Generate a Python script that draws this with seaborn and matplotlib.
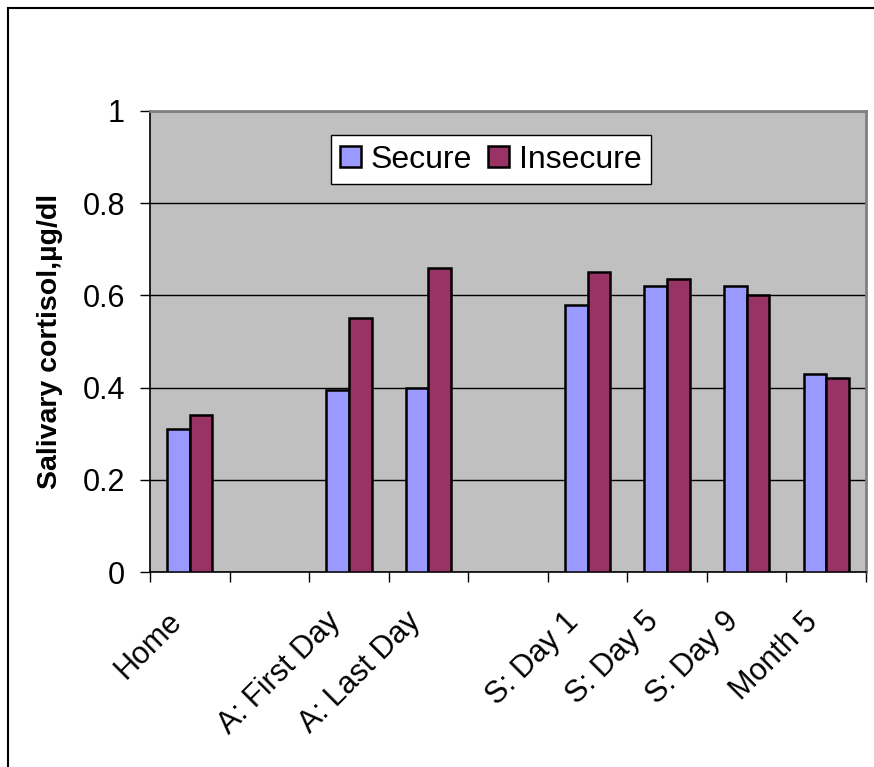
import pandas as pd
import matplotlib.pyplot as plt
import matplotlib.transforms as mtransforms
import seaborn as sns
import numpy as np
from matplotlib.patches import Rectangle

# data (blank categories are the empty slots in the original chart)
categories = ["Home", "", "A: First Day", "A: Last Day", " ",
              "S: Day 1", "S: Day 5", "S: Day 9", "Month 5"]
secure = [0.31, np.nan, 0.395, 0.40, np.nan, 0.58, 0.62, 0.62, 0.43]
insecure = [0.34, np.nan, 0.55, 0.66, np.nan, 0.65, 0.635, 0.60, 0.42]
groups = ["Secure", "Insecure"]
colors = ["#9999FF", "#993366"]

df = pd.DataFrame({"cat": categories, "Secure": secure, "Insecure": insecure})
df = df.melt(id_vars="cat", var_name="group", value_name="cortisol").dropna()

sns.set_theme(style="white")
plt.rcParams['font.family'] = ['Liberation Sans', 'DejaVu Sans']
plt.rcParams['text.color'] = 'black'
plt.rcParams['axes.labelcolor'] = 'black'
plt.rcParams['xtick.color'] = 'black'
plt.rcParams['ytick.color'] = 'black'

fig = plt.figure(figsize=(8.74, 7.67), dpi=100)
ax = fig.add_axes([150/874, 1 - 572/767, 716/874, 461/767])
ax.set_facecolor("#C0C0C0")

sns.barplot(data=df, x="cat", y="cortisol", hue="group", order=categories,
            hue_order=groups, palette=colors, saturation=1, width=0.57, gap=0,
            edgecolor="black", linewidth=1.8, errorbar=None, ax=ax, zorder=3)

ax.set_ylim(0, 1)
ax.set_xlim(-0.5, len(categories) - 0.5)
ax.set_yticks([0, 0.2, 0.4, 0.6, 0.8, 1.0])
ax.set_yticklabels(["0", "0.2", "0.4", "0.6", "0.8", "1"], fontsize=22)
ax.yaxis.grid(True, color="black", linewidth=1.0, zorder=0)
ax.set_axisbelow(True)
ax.tick_params(axis="y", direction="out", length=7, width=1, color="black",
               left=True, pad=11)

# tick marks at slot boundaries, labels at slot centres
ax.set_xticks(np.arange(-0.5, len(categories)))
ax.set_xticklabels([])
ax.tick_params(axis="x", which="major", direction="out", length=7, width=1,
               color="black", bottom=True)
ax.set_xticks(np.arange(len(categories)), minor=True)
ax.set_xticklabels([c.strip() for c in categories], minor=True, fontsize=22,
                   rotation=45, ha="right", va="center", rotation_mode="anchor")
ax.tick_params(axis="x", which="minor", length=0, pad=34)
shift = mtransforms.ScaledTranslation(-0.13, 0.02, fig.dpi_scale_trans)
for lbl in ax.get_xticklabels(minor=True):
    lbl.set_transform(lbl.get_transform() + shift)

ax.set_xlabel("")
ax.set_ylabel("Salivary cortisol,\u00b5g/dl", fontsize=20.5, fontweight="bold",
              labelpad=14)

for s in ["top", "right"]:
    ax.spines[s].set_color("#808080")
    ax.spines[s].set_linewidth(2)
for s in ["left", "bottom"]:
    ax.spines[s].set_color("black")
    ax.spines[s].set_linewidth(1.2)

leg = ax.legend(loc="center", bbox_to_anchor=(0.476, 0.894), ncol=2,
                fontsize=23, frameon=True, fancybox=False,
                handlelength=0.65, handleheight=0.65, handletextpad=0.3,
                columnspacing=0.5, borderpad=0.3, borderaxespad=0)
leg.get_frame().set_edgecolor("black")
leg.get_frame().set_facecolor("white")
leg.get_frame().set_linewidth(1.0)
leg.get_frame().set_alpha(1)

# outer chart frame
fig.patches.append(Rectangle((8/874, -0.05), 1.0, 1 - 8/767 + 0.05,
                             transform=fig.transFigure, fill=False,
                             edgecolor="black", linewidth=1.5))

fig.savefig("out.png", dpi=100)
